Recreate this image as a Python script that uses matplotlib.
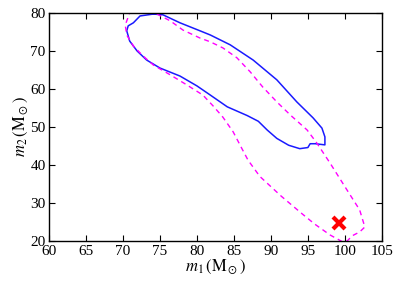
import matplotlib
matplotlib.use("Agg")
import matplotlib.pyplot as plt

plt.rcParams['font.family'] = ['Liberation Serif', 'DejaVu Serif']
plt.rcParams['mathtext.fontset'] = 'stix'

# blue (solid) credible region contour
blue_m1 = [74.1, 72.3, 71.4, 70.7, 70.5, 70.9, 71.9, 73.2, 75.0, 77.7, 80.0, 81.8,
           84.1, 86.8, 88.3, 89.5, 90.8, 92.4, 93.9, 95.0, 95.3, 96.0, 97.3,
           97.3, 96.9, 95.7, 93.5, 90.8, 87.6, 84.5, 81.8, 80.4, 77.7, 75.4, 74.1]
blue_m2 = [79.7, 79.2, 77.4, 76.6, 75.3, 72.6, 70.0, 67.6, 65.5, 63.4, 60.8, 58.4,
           55.3, 53.0, 51.5, 49.2, 47.0, 45.2, 44.3, 44.6, 45.6, 45.6, 45.3,
           47.4, 49.7, 52.4, 56.6, 62.4, 67.6, 71.6, 74.2, 75.3, 77.4, 79.5, 79.7]

# magenta (dashed) credible region contour
mag_m1 = [71.3, 70.9, 70.3, 70.5, 71.4, 72.7, 74.1, 76.4, 78.6, 80.8, 82.2, 83.5,
          84.9, 86.0, 86.9, 88.5, 91.4, 94.2, 95.9, 98.0, 99.6, 100.3, 101.0, 102.0,
          102.7, 102.0, 100.3, 98.0, 96.2, 94.9, 92.6, 90.8, 88.9, 87.2, 85.4, 83.5,
          81.8, 80.4, 78.1, 76.4, 74.6, 74.0]
mag_m2 = [80.5, 80.0, 76.8, 74.2, 71.3, 68.7, 66.3, 63.7, 61.1, 58.4, 55.5, 52.6,
          48.7, 44.6, 41.3, 37.0, 31.8, 27.2, 24.5, 21.6, 19.9, 20.0, 21.4, 22.4,
          23.7, 28.2, 33.4, 40.5, 45.8, 49.2, 53.2, 56.6, 60.5, 64.5, 68.2, 70.8,
          72.4, 73.4, 75.5, 77.9, 79.7, 80.5]

# injected value
inj_m1 = [99.2]
inj_m2 = [24.8]

fig = plt.figure(figsize=(3.99, 2.87), dpi=100)
ax = fig.add_axes([0.123, 0.160, 0.834, 0.795])

ax.plot(blue_m1, blue_m2, color='#1a1aff', lw=1.1)
ax.plot(mag_m1, mag_m2, color='#ff00ff', lw=1.0, dashes=(3.6, 2.9))
ax.plot(inj_m1, inj_m2, 'x', color='red', ms=9, mew=3)

ax.set_xlim(60, 105)
ax.set_ylim(20, 80)
ax.set_xticks(range(60, 106, 5))
ax.set_yticks(range(20, 81, 10))
ax.tick_params(direction='in', top=True, right=True, length=4, width=0.8,
               labelsize=11, pad=2.5)
for s in ax.spines.values():
    s.set_linewidth(1.0)

ax.set_xlabel(r'$m_1\,(\mathrm{M}_\odot)$', fontsize=12, labelpad=0)
ax.set_ylabel(r'$m_2\,(\mathrm{M}_\odot)$', fontsize=12, labelpad=0)

fig.savefig('out.png', dpi=100)
